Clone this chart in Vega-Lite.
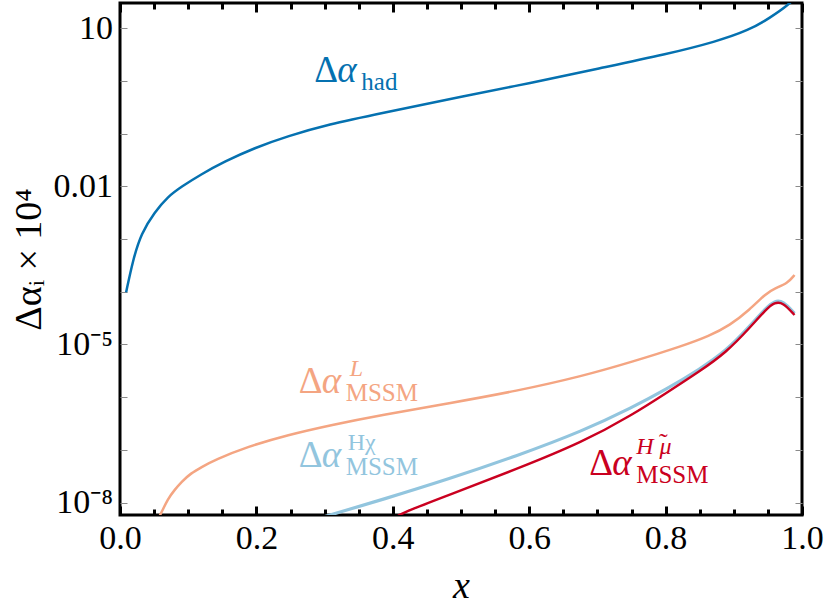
{
  "$schema": "https://vega.github.io/schema/vega-lite/v6.json",
  "width": 682,
  "height": 512,
  "autosize": "none",
  "padding": {"left": 120, "top": 3, "right": 23, "bottom": 98},
  "background": "white",
  "config": {
    "view": {"stroke": "black", "strokeWidth": 3},
    "axis": {
      "domain": false,
      "grid": false,
      "labelOverlap": false,
      "labelFlush": false,
      "labelFont": "Liberation Serif",
      "labelFontSize": 34,
      "labelColor": "black",
      "titleFont": "Liberation Serif",
      "titleFontWeight": "normal",
      "titleColor": "black",
      "tickCap": "butt"
    },
    "text": {"font": "Liberation Serif"}
  },
  "datasets": {
    "curves": [
      {"series": "had", "x": 0.009, "y": 9.8e-5},
      {"series": "had", "x": 0.019, "y": 4.0e-4},
      {"series": "had", "x": 0.031, "y": 1.29e-3},
      {"series": "had", "x": 0.051, "y": 3.27e-3},
      {"series": "had", "x": 0.070, "y": 6.38e-3},
      {"series": "had", "x": 0.090, "y": 9.86e-3},
      {"series": "had", "x": 0.119, "y": 0.0170},
      {"series": "had", "x": 0.153, "y": 0.0295},
      {"series": "had", "x": 0.197, "y": 0.0537},
      {"series": "had", "x": 0.246, "y": 0.0900},
      {"series": "had", "x": 0.305, "y": 0.150},
      {"series": "had", "x": 0.383, "y": 0.244},
      {"series": "had", "x": 0.505, "y": 0.519},
      {"series": "had", "x": 0.600, "y": 0.904},
      {"series": "had", "x": 0.703, "y": 1.74},
      {"series": "had", "x": 0.801, "y": 3.21},
      {"series": "had", "x": 0.874, "y": 5.57},
      {"series": "had", "x": 0.923, "y": 9.29},
      {"series": "had", "x": 0.952, "y": 15.5},
      {"series": "had", "x": 0.982, "y": 28.9},
      {"series": "had", "x": 0.992, "y": 41.7},

      {"series": "L", "x": 0.050, "y": 3.5e-9},
      {"series": "L", "x": 0.0604, "y": 6.27e-9},
      {"series": "L", "x": 0.070, "y": 1.17e-8},
      {"series": "L", "x": 0.080, "y": 1.73e-8},
      {"series": "L", "x": 0.090, "y": 2.46e-8},
      {"series": "L", "x": 0.104, "y": 3.6e-8},
      {"series": "L", "x": 0.120, "y": 4.74e-8},
      {"series": "L", "x": 0.139, "y": 6.43e-8},
      {"series": "L", "x": 0.187, "y": 1.15e-7},
      {"series": "L", "x": 0.246, "y": 1.92e-7},
      {"series": "L", "x": 0.310, "y": 2.97e-7},
      {"series": "L", "x": 0.383, "y": 4.59e-7},
      {"series": "L", "x": 0.483, "y": 7.66e-7},
      {"series": "L", "x": 0.581, "y": 1.30e-6},
      {"series": "L", "x": 0.679, "y": 2.52e-6},
      {"series": "L", "x": 0.752, "y": 4.72e-6},
      {"series": "L", "x": 0.825, "y": 9.38e-6},
      {"series": "L", "x": 0.864, "y": 1.45e-5},
      {"series": "L", "x": 0.894, "y": 2.29e-5},
      {"series": "L", "x": 0.923, "y": 4.52e-5},
      {"series": "L", "x": 0.9475, "y": 9.37e-5},
      {"series": "L", "x": 0.960, "y": 1.16e-4},
      {"series": "L", "x": 0.979, "y": 1.45e-4},
      {"series": "L", "x": 0.989, "y": 2.08e-4},

      {"series": "Hchi", "x": 0.300, "y": 5.4e-9},
      {"series": "Hchi", "x": 0.317, "y": 6.27e-9},
      {"series": "Hchi", "x": 0.383, "y": 1.12e-8},
      {"series": "Hchi", "x": 0.483, "y": 2.82e-8},
      {"series": "Hchi", "x": 0.581, "y": 7.6e-8},
      {"series": "Hchi", "x": 0.679, "y": 2.29e-7},
      {"series": "Hchi", "x": 0.752, "y": 6.46e-7},
      {"series": "Hchi", "x": 0.801, "y": 1.41e-6},
      {"series": "Hchi", "x": 0.850, "y": 3.39e-6},
      {"series": "Hchi", "x": 0.889, "y": 7.59e-6},
      {"series": "Hchi", "x": 0.923, "y": 2.19e-5},
      {"series": "Hchi", "x": 0.9475, "y": 5.01e-5},
      {"series": "Hchi", "x": 0.960, "y": 6.76e-5},
      {"series": "Hchi", "x": 0.972, "y": 6.76e-5},
      {"series": "Hchi", "x": 0.989, "y": 3.89e-5},

      {"series": "Hmu", "x": 0.400, "y": 4.8e-9},
      {"series": "Hmu", "x": 0.412, "y": 6.27e-9},
      {"series": "Hmu", "x": 0.483, "y": 1.41e-8},
      {"series": "Hmu", "x": 0.581, "y": 4.27e-8},
      {"series": "Hmu", "x": 0.679, "y": 1.41e-7},
      {"series": "Hmu", "x": 0.752, "y": 4.68e-7},
      {"series": "Hmu", "x": 0.801, "y": 1.20e-6},
      {"series": "Hmu", "x": 0.850, "y": 3.09e-6},
      {"series": "Hmu", "x": 0.889, "y": 7.08e-6},
      {"series": "Hmu", "x": 0.923, "y": 2.04e-5},
      {"series": "Hmu", "x": 0.9475, "y": 4.68e-5},
      {"series": "Hmu", "x": 0.960, "y": 6.31e-5},
      {"series": "Hmu", "x": 0.972, "y": 6.31e-5},
      {"series": "Hmu", "x": 0.989, "y": 3.63e-5}
    ],
    "labels": [
      {"series": "had", "x": 0.285, "y": 0.97, "sub": "had", "sup": "", "accent": ""},
      {"series": "L", "x": 0.262, "y": 1.19e-6, "sub": "MSSM", "sup": "L", "accent": ""},
      {"series": "Hchi", "x": 0.262, "y": 4.8e-8, "sub": "MSSM", "sup": "Hχ", "accent": ""},
      {"series": "Hmu", "x": 0.688, "y": 3.34e-8, "sub": "MSSM", "sup": "H μ", "accent": "˜"}
    ]
  },
  "resolve": {"axis": {"x": "independent", "y": "independent"}},
  "layer": [
    {
      "data": {"name": "curves"},
      "transform": [{"filter": "datum.series === 'had' || datum.series === 'L'"}],
      "mark": {"type": "line", "strokeWidth": 2.5, "clip": true, "interpolate": "basis"},
      "encoding": {
        "x": {
          "field": "x", "type": "quantitative",
          "scale": {"domain": [0, 1], "nice": false, "zero": false},
          "axis": {
            "orient": "bottom",
            "values": [0, 0.2, 0.4, 0.6, 0.8, 1.0],
            "format": ".1f",
            "tickSize": -9, "tickWidth": 3, "tickColor": "black",
            "labelBaseline": "alphabetic", "labelPadding": 42,
            "title": "x", "titleFontStyle": "italic", "titleFontSize": 38,
            "titleBaseline": "alphabetic", "titleY": 82
          }
        },
        "y": {
          "field": "y", "type": "quantitative",
          "scale": {"type": "log", "domain": [5.8e-9, 30.2], "nice": false},
          "axis": {
            "orient": "left",
            "values": [1e-8, 1e-7, 1e-6, 1e-5, 1e-4, 1e-3, 0.01, 0.1, 1, 10],
            "labelExpr": "datum.value > 5 ? '10' : (datum.value > 0.005 && datum.value < 0.02) ? '0.01' : (datum.value > 5e-6 && datum.value < 2e-5) ? '10⁻⁵' : (datum.value < 2e-8) ? '10⁻⁸' : ''",
            "tickSize": -7, "tickWidth": 1, "tickColor": "#8a8a8a",
            "labelBaseline": "middle", "labelPadding": 14.5,
            "title": "Δαᵢ  ×  10⁴", "titleFontSize": 38,
            "titleBaseline": "alphabetic", "titleX": -80
          }
        },
        "color": {
          "field": "series", "type": "nominal",
          "scale": {"domain": ["had", "L", "Hchi", "Hmu"], "range": ["#0571b0", "#f4a582", "#92c5de", "#ca0020"]},
          "legend": null
        }
      }
    },
    {
      "data": {"name": "curves"},
      "transform": [{"filter": "datum.series === 'Hchi'"}],
      "mark": {"type": "line", "strokeWidth": 3.2, "clip": true, "interpolate": "basis"},
      "encoding": {
        "x": {
          "field": "x", "type": "quantitative",
          "axis": {
            "orient": "bottom",
            "values": [0.05, 0.1, 0.15, 0.25, 0.3, 0.35, 0.45, 0.5, 0.55, 0.65, 0.7, 0.75, 0.85, 0.9, 0.95],
            "labels": false, "title": null,
            "tickSize": -6, "tickWidth": 3, "tickColor": "black"
          }
        },
        "y": {
          "field": "y", "type": "quantitative",
          "axis": {
            "orient": "right",
            "values": [1e-8, 1e-7, 1e-6, 1e-5, 1e-4, 1e-3, 0.01, 0.1, 1, 10],
            "labels": false, "title": null,
            "tickSize": -7, "tickWidth": 1, "tickColor": "#8a8a8a"
          }
        },
        "color": {"field": "series", "type": "nominal", "legend": null}
      }
    },
    {
      "data": {"name": "curves"},
      "transform": [{"filter": "datum.series === 'Hmu'"}],
      "mark": {"type": "line", "strokeWidth": 2.4, "clip": true, "interpolate": "basis"},
      "encoding": {
        "x": {
          "field": "x", "type": "quantitative",
          "axis": {
            "orient": "top",
            "values": [0, 0.2, 0.4, 0.6, 0.8, 1.0],
            "labels": false, "title": null,
            "tickSize": -9, "tickWidth": 3, "tickColor": "black"
          }
        },
        "y": {"field": "y", "type": "quantitative", "axis": null},
        "color": {"field": "series", "type": "nominal", "legend": null}
      }
    },
    {
      "data": {"name": "labels"},
      "mark": {"type": "text", "fontSize": 37, "align": "left", "baseline": "alphabetic"},
      "encoding": {
        "x": {
          "field": "x", "type": "quantitative",
          "axis": {
            "orient": "top",
            "values": [0.05, 0.1, 0.15, 0.25, 0.3, 0.35, 0.45, 0.5, 0.55, 0.65, 0.7, 0.75, 0.85, 0.9, 0.95],
            "labels": false, "title": null,
            "tickSize": -6, "tickWidth": 3, "tickColor": "black"
          }
        },
        "y": {"field": "y", "type": "quantitative", "axis": null},
        "text": {"value": "Δ"},
        "color": {"field": "series", "type": "nominal", "legend": null}
      }
    },
    {
      "data": {"name": "labels"},
      "mark": {"type": "text", "fontSize": 37, "fontStyle": "italic", "align": "left", "baseline": "alphabetic", "dx": 23},
      "encoding": {
        "x": {"field": "x", "type": "quantitative", "axis": null},
        "y": {"field": "y", "type": "quantitative", "axis": null},
        "text": {"value": "α"},
        "color": {"field": "series", "type": "nominal", "legend": null}
      }
    },
    {
      "data": {"name": "labels"},
      "mark": {"type": "text", "fontSize": 25, "align": "left", "baseline": "alphabetic", "dx": 47, "dy": 8},
      "encoding": {
        "x": {"field": "x", "type": "quantitative", "axis": null},
        "y": {"field": "y", "type": "quantitative", "axis": null},
        "text": {"field": "sub"},
        "color": {"field": "series", "type": "nominal", "legend": null}
      }
    },
    {
      "data": {"name": "labels"},
      "transform": [{"filter": "datum.series === 'L'"}],
      "mark": {"type": "text", "fontSize": 24, "fontStyle": "italic", "align": "left", "baseline": "alphabetic", "dx": 51, "dy": -17},
      "encoding": {
        "x": {"field": "x", "type": "quantitative", "axis": null},
        "y": {"field": "y", "type": "quantitative", "axis": null},
        "text": {"field": "sup"},
        "color": {"field": "series", "type": "nominal", "legend": null}
      }
    },
    {
      "data": {"name": "labels"},
      "transform": [{"filter": "datum.series === 'Hchi'"}],
      "mark": {"type": "text", "fontSize": 24, "align": "left", "baseline": "alphabetic", "dx": 49, "dy": -17},
      "encoding": {
        "x": {"field": "x", "type": "quantitative", "axis": null},
        "y": {"field": "y", "type": "quantitative", "axis": null},
        "text": {"field": "sup"},
        "color": {"field": "series", "type": "nominal", "legend": null}
      }
    },
    {
      "data": {"name": "labels"},
      "transform": [{"filter": "datum.series === 'Hmu'"}],
      "mark": {"type": "text", "fontSize": 24, "fontStyle": "italic", "align": "left", "baseline": "alphabetic", "dx": 47, "dy": -21},
      "encoding": {
        "x": {"field": "x", "type": "quantitative", "axis": null},
        "y": {"field": "y", "type": "quantitative", "axis": null},
        "text": {"field": "sup"},
        "color": {"field": "series", "type": "nominal", "legend": null}
      }
    },
    {
      "data": {"name": "labels"},
      "transform": [{"filter": "datum.series === 'Hmu'"}],
      "mark": {"type": "text", "fontSize": 26, "align": "center", "baseline": "alphabetic", "dx": 74, "dy": -24},
      "encoding": {
        "x": {"field": "x", "type": "quantitative", "axis": null},
        "y": {"field": "y", "type": "quantitative", "axis": null},
        "text": {"field": "accent"},
        "color": {"field": "series", "type": "nominal", "legend": null}
      }
    }
  ]
}
